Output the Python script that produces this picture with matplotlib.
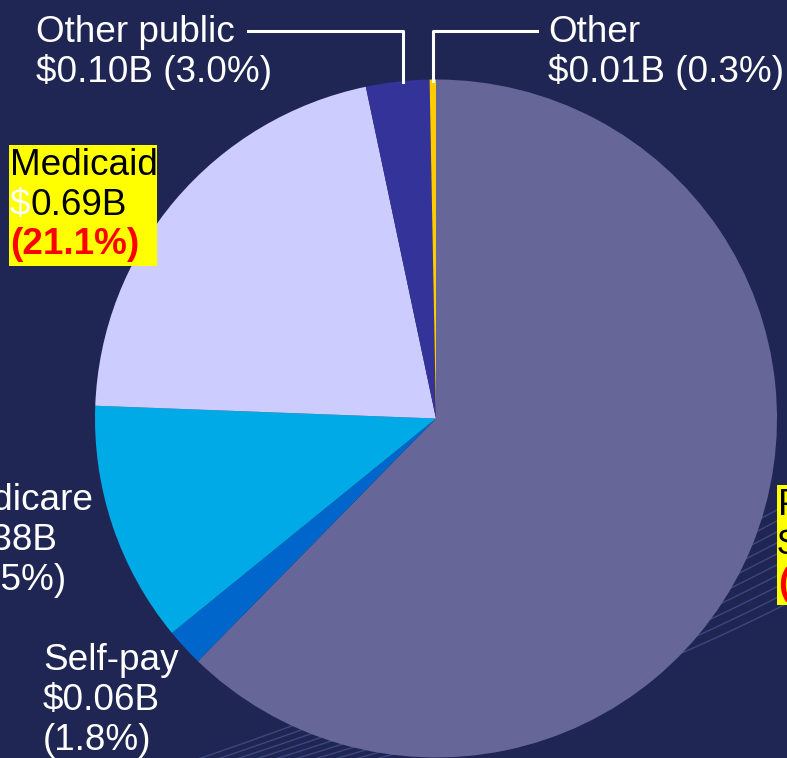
import numpy as np
import matplotlib
matplotlib.use("Agg")
import matplotlib.pyplot as plt
from matplotlib.lines import Line2D
from matplotlib.patches import Rectangle

plt.rcParams['font.family'] = ['Liberation Sans', 'DejaVu Sans']

# ---- data (clockwise from 12 o'clock) ----
categories = ["Private", "Self-pay", "Medicare", "Medicaid", "Other public", "Other"]
billions = [2.04, 0.06, 0.38, 0.69, 0.10, 0.01]
shares = [62.3, 1.8, 11.5, 21.1, 3.0, 0.3]
colors = ["#666699", "#0066CC", "#00AAE6", "#CCCCFF", "#333399", "#FFCC00"]

BG = "#1F2654"
W, H = 787, 758
fig = plt.figure(figsize=(W / 100, H / 100), dpi=100, facecolor=BG)

def fx(px):
    return px / W

def fy(py):
    return 1 - py / H

# decorative swoosh lines in background
for i in range(10):
    x0, y0 = 150 + 18 * i, 775
    x1, y1 = 790, 503 + 11 * i
    t = np.linspace(0, 1, 60)
    cx, cy = (x0 + x1) / 2 + 20, (y0 + y1) / 2 + 25
    xs = (1 - t) ** 2 * x0 + 2 * (1 - t) * t * cx + t ** 2 * x1
    ys = (1 - t) ** 2 * y0 + 2 * (1 - t) * t * cy + t ** 2 * y1
    fig.add_artist(Line2D(fx(xs), fy(ys), color="#6070B0", alpha=0.45, lw=1.0, zorder=0))

# pie axes: pixel box centred at (436, 418.5)
cx_px, cy_px, rx_px, ry_px = 436, 418.5, 341, 339
ax = fig.add_axes([fx(cx_px - rx_px), fy(cy_px + ry_px), 2 * rx_px / W, 2 * ry_px / H])
ax.set_facecolor("none")
ax.pie(shares, colors=colors, startangle=90, counterclock=False, radius=1,
       wedgeprops=dict(linewidth=0))
ax.set_xlim(-1, 1)
ax.set_ylim(-1, 1)
ax.set_aspect("auto")
ax.axis("off")

FS = 26.6
LW = 2.2

def fmt_b(v):
    return f"${v:.2f}B"

def fmt_p(p):
    return f"({p:.1f}%)"

idx = {c: i for i, c in enumerate(categories)}

# Other public
i = idx["Other public"]
fig.text(fx(36), fy(42), "Other public", color="white", fontsize=FS, va="baseline")
fig.text(fx(36), fy(82), f"{fmt_b(billions[i])} {fmt_p(shares[i])}", color="white",
         fontsize=FS, va="baseline")
fig.add_artist(Line2D([fx(248), fx(403), fx(403)], [fy(31), fy(31), fy(82)],
                      color="white", lw=LW))

# Other
i = idx["Other"]
fig.text(fx(548), fy(42), "Other", color="white", fontsize=FS, va="baseline")
fig.text(fx(548), fy(82), f"{fmt_b(billions[i])} {fmt_p(shares[i])}", color="white",
         fontsize=FS, va="baseline")
fig.add_artist(Line2D([fx(433), fx(433), fx(537)], [fy(81), fy(31), fy(31)],
                      color="white", lw=LW))

# Medicare (partially off canvas, as in the reference)
i = idx["Medicare"]
for k, s in enumerate(["Medicare", fmt_b(billions[i]), fmt_p(shares[i])]):
    fig.text(fx(-59), fy(510 + 40 * k), s, color="white", fontsize=FS, va="baseline")

# Self-pay
i = idx["Self-pay"]
for k, s in enumerate(["Self-pay", fmt_b(billions[i]), fmt_p(shares[i])]):
    fig.text(fx(43), fy(670 + 40 * k), s, color="white", fontsize=FS, va="baseline")

def highlighted(x0, ytop, ybot, xright, name, val, pct, dollar_color):
    fig.add_artist(Rectangle((fx(x0), fy(ybot)), fx(xright) - fx(x0), fy(ytop) - fy(ybot),
                             facecolor="#FFFF00", edgecolor="none", zorder=3))
    b0 = ytop + 30
    fig.text(fx(x0 + 1), fy(b0), name, color="black", fontsize=FS, va="baseline", zorder=4)
    d = fig.text(fx(x0 + 1), fy(b0 + 40), "$", color=dollar_color, fontsize=FS,
                 va="baseline", zorder=4)
    fig.canvas.draw()
    bb = d.get_window_extent()
    fig.text(bb.x1 / W, fy(b0 + 40), val.lstrip("$"), color="black", fontsize=FS,
             va="baseline", zorder=4)
    fig.text(fx(x0 + 1), fy(b0 + 79), pct, color="red", fontsize=FS, fontweight="bold",
             va="baseline", zorder=4)

i = idx["Medicaid"]
highlighted(9, 145, 266, 157, "Medicaid", fmt_b(billions[i]), fmt_p(shares[i]), "white")
i = idx["Private"]
highlighted(777, 485, 605, 900, "Private", fmt_b(billions[i]), fmt_p(shares[i]), "black")

fig.savefig("out.png", dpi=100, facecolor=BG)
